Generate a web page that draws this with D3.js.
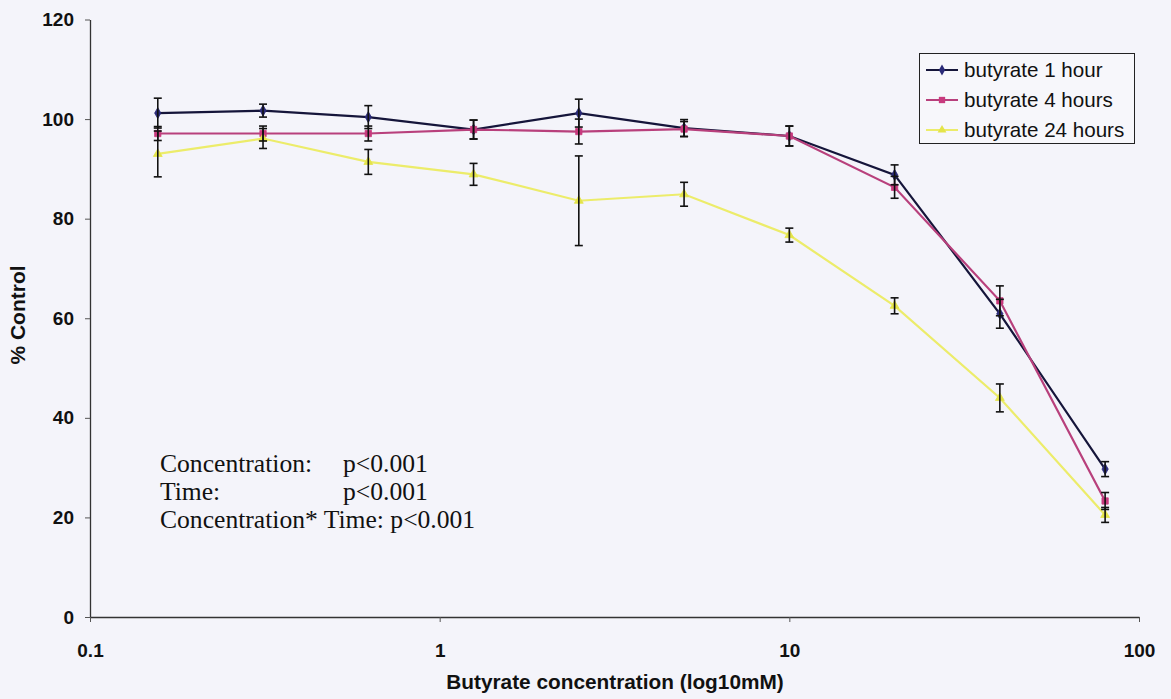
<!DOCTYPE html>
<html>
<head>
<meta charset="utf-8">
<script src="https://cdn.jsdelivr.net/npm/d3@7/dist/d3.min.js"></script>
<style>
  html, body { margin: 0; padding: 0; background: #f4f4fa; }
  svg { display: block; }
</style>
</head>
<body>
<svg id="chart" width="1171" height="699"></svg>
<script>
// Butyrate concentrations (mM), two-fold dilution series
const concentrations = [0.15625, 0.3125, 0.625, 1.25, 2.5, 5, 10, 20, 40, 80];

// % of control, mean and error for each exposure time
const hour1 = [101.2, 101.7, 100.4, 97.9, 101.2, 98.2, 96.6, 88.8, 60.9, 29.7];
const hour1Err = [3.0, 1.3, 2.3, 1.9, 2.8, 1.7, 2.0, 2.0, 2.9, 1.5];
const hour4 = [97.1, 97.1, 97.1, 97.9, 97.5, 98.0, 96.6, 86.3, 63.5, 23.3];
const hour4Err = [1.4, 1.5, 1.5, 1.9, 2.5, 1.5, 2.0, 2.2, 3.0, 1.7];
const hour24 = [93.0, 96.1, 91.4, 88.9, 83.6, 84.9, 76.7, 62.5, 44.0, 20.5];
const hour24Err = [4.6, 2.0, 2.5, 2.2, 9.0, 2.4, 1.4, 1.6, 2.8, 1.5];

const seriesNames = ["butyrate 1 hour", "butyrate 4 hours", "butyrate 24 hours"];
const xTicks = [0.1, 1, 10, 100];
const yTicks = [0, 20, 40, 60, 80, 100, 120];
const statLines = [
  ["Concentration:", "p<0.001"],
  ["Time:", "p<0.001"],
  ["Concentration* Time: p<0.001", ""]
];

const series = [
  { name: seriesNames[0], values: hour1, errors: hour1Err, line: "#15153a", fill: "#2a2a78", symbol: d3.symbolDiamond, size: 34 },
  { name: seriesNames[1], values: hour4, errors: hour4Err, line: "#b8407c", fill: "#c83a7e", symbol: d3.symbolSquare, size: 40 },
  { name: seriesNames[2], values: hour24, errors: hour24Err, line: "#ecec6a", fill: "#e4e44a", symbol: d3.symbolTriangle, size: 34 }
];

const svg = d3.select("#chart");
const plotLeft = 90, plotRight = 1139, plotTop = 19.5, plotBottom = 617;

const x = d3.scaleLog().domain([0.1, 100]).range([plotLeft, plotRight]);
const y = d3.scaleLinear().domain([0, 120]).range([plotBottom, plotTop]);

const axisFont = "'Liberation Sans', Arial, sans-serif";

// Y axis
const yAxis = svg.append("g")
  .attr("transform", `translate(${plotLeft},0)`)
  .call(d3.axisLeft(y).tickValues(yTicks).tickSize(5).tickPadding(11).tickSizeOuter(0));
yAxis.selectAll("text")
  .style("font-family", axisFont).style("font-size", "19px").style("font-weight", "bold").attr("fill", "#111");

// X axis
const xAxis = svg.append("g")
  .attr("transform", `translate(0,${plotBottom})`)
  .call(d3.axisBottom(x).tickValues(xTicks).tickFormat(d => String(d)).tickSize(5).tickPadding(22).tickSizeOuter(0));
xAxis.selectAll("text")
  .style("font-family", axisFont).style("font-size", "19px").style("font-weight", "bold").attr("fill", "#111");

svg.selectAll(".domain").attr("stroke", "#333").attr("stroke-width", 1.3);
svg.selectAll(".tick line").attr("stroke", "#555");

// Axis titles
svg.append("text")
  .attr("x", 615).attr("y", 689)
  .attr("text-anchor", "middle")
  .style("font-family", axisFont).style("font-size", "20.8px").style("font-weight", "bold")
  .attr("fill", "#111")
  .text("Butyrate concentration (log10mM)");

svg.append("text")
  .attr("transform", `translate(25,315) rotate(-90)`)
  .attr("text-anchor", "middle")
  .style("font-family", axisFont).style("font-size", "21px").style("font-weight", "bold")
  .attr("fill", "#111")
  .text("% Control");

// Lines
const lineGen = d3.line()
  .x((d, i) => x(concentrations[i]))
  .y(d => y(d));

const plot = svg.append("g");
series.forEach(s => {
  plot.append("path")
    .datum(s.values)
    .attr("fill", "none")
    .attr("stroke", s.line)
    .attr("stroke-width", 2.2)
    .attr("d", lineGen);
});

// Markers
series.forEach(s => {
  plot.selectAll(null)
    .data(s.values)
    .join("path")
    .attr("transform", (d, i) => `translate(${x(concentrations[i])},${y(d)})`)
    .attr("d", d3.symbol().type(s.symbol).size(s.size))
    .attr("fill", s.fill)
    .attr("stroke", s.fill)
    .attr("stroke-width", 0.8);
});

// Error bars
const capHalf = 4;
series.forEach(s => {
  const g = plot.append("g").attr("stroke", "#111").attr("stroke-width", 1.6);
  s.values.forEach((v, i) => {
    const cx = x(concentrations[i]);
    const y1 = y(v + s.errors[i]);
    const y2 = y(v - s.errors[i]);
    g.append("line").attr("x1", cx).attr("x2", cx).attr("y1", y1).attr("y2", y2);
    g.append("line").attr("x1", cx - capHalf).attr("x2", cx + capHalf).attr("y1", y1).attr("y2", y1);
    g.append("line").attr("x1", cx - capHalf).attr("x2", cx + capHalf).attr("y1", y2).attr("y2", y2);
  });
});

// Legend
const legend = svg.append("g");
legend.append("rect")
  .attr("x", 919.5).attr("y", 53.5).attr("width", 215).attr("height", 90)
  .attr("fill", "#f7f7fb").attr("stroke", "#222").attr("stroke-width", 1);
series.forEach((s, i) => {
  const ly = 70 + i * 30;
  legend.append("line")
    .attr("x1", 926).attr("x2", 958).attr("y1", ly).attr("y2", ly)
    .attr("stroke", s.line).attr("stroke-width", 2);
  legend.append("path")
    .attr("transform", `translate(942,${ly})`)
    .attr("d", d3.symbol().type(s.symbol).size(s.size))
    .attr("fill", s.fill);
  legend.append("text")
    .attr("x", 964).attr("y", ly + 7)
    .style("font-family", axisFont).style("font-size", "20.6px")
    .attr("fill", "#111")
    .text(s.name);
});

// Statistics annotation
const stats = svg.append("g")
  .style("font-family", "'Liberation Serif', 'Times New Roman', serif")
  .style("font-size", "25.6px")
  .attr("fill", "#111");
statLines.forEach((pair, i) => {
  const by = 472 + i * 28;
  stats.append("text").attr("x", 160).attr("y", by).text(pair[0]);
  if (pair[1]) stats.append("text").attr("x", 343).attr("y", by).text(pair[1]);
});
</script>
</body>
</html>
